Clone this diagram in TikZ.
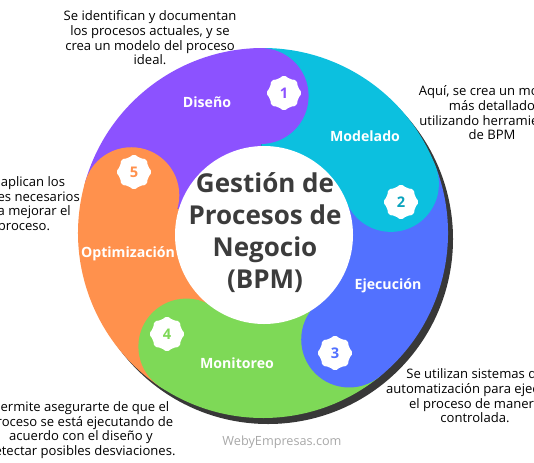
\documentclass[tikz,border=0pt]{standalone}
\usepackage{fontspec}
\setmainfont{Open Sans}
\usetikzlibrary{shapes.geometric}
\definecolor{disenocol}{HTML}{8C52FF}
\definecolor{modelcol}{HTML}{0CC0DF}
\definecolor{ejeccol}{HTML}{5271FF}
\definecolor{monitcol}{HTML}{7ED957}
\definecolor{optimcol}{HTML}{FF914D}
\definecolor{shadowcol}{HTML}{383838}
\definecolor{titlecol}{HTML}{3C3C3C}
\definecolor{markcol}{HTML}{A8A8A8}
% one coloured piece of the ring: colour, end angle, start angle
\newcommand{\ringpart}[3]{
  \fill[#1] (#2:80) arc[start angle=#2, end angle=#3, radius=80]
    -- (#3:185) arc[start angle=#3, end angle=#2, radius=185] -- cycle;}
% rounded head of a piece
\newcommand{\ringcap}[2]{\fill[#1] (#2:137) circle[radius=48];}
\tikzset{
    %Define style for phase names
    phase/.style={
           text=white,
           font=\fontsize{10.6}{12}\selectfont\bfseries},
    %Define style for number badges
    badge/.style={
           star, star points=8, star point ratio=1.2,
           fill=white, rounded corners=1.5pt,
           minimum size=27pt, inner sep=0pt,
           font=\fontsize{11}{12}\selectfont\bfseries},
    %Define style for descriptions
    annot/.style={
           align=center,
           font=\fontsize{9.8}{11}\selectfont},
    %Define style for the centre text
    bigtitle/.style={
           align=center, text=titlecol,
           font=\fontsize{19.5}{24}\selectfont\bfseries}
}
\begin{document}
\begin{tikzpicture}[x=0.75pt, y=0.75pt]
  \useasboundingbox (0,0) rectangle (534,462);

  % shadow and ring
  \fill[shadowcol] (268,223) circle[radius=185];
  \begin{scope}[shift={(263,229)}]
    \ringpart{disenocol}{91}{164}
    \ringpart{modelcol}{21}{91}
    \ringpart{ejeccol}{-51}{21}
    \ringpart{monitcol}{-124}{-51}
    \ringpart{optimcol}{164}{236}
    \ringcap{disenocol}{91}
    \ringcap{modelcol}{21}
    \ringcap{ejeccol}{-51}
    \ringcap{monitcol}{-124}
    \ringcap{optimcol}{164}
  \end{scope}
  \fill[white] (264,227) circle[radius=89];

  \node[bigtitle] (title) at (265,229) {Gesti\'on de\\Procesos de\\Negocio\\(BPM)};

  \node[phase] (diseno) at (207,360) {Diseño};
  \node[phase] (modelado) at (365,326) {Modelado};
  \node[phase] (ejecucion) at (388,176) {Ejecución};
  \node[phase] (monitoreo) at (237,99) {Monitoreo};
  \node[phase] (optimizacion) at (128,208) {Optimización};

  \node[badge, text=disenocol] (b1) at (284,369) {1};
  \node[badge, text=modelcol!85!black] (b2) at (401,260) {2};
  \node[badge, text=ejeccol] (b3) at (335,109) {3};
  \node[badge, text=monitcol] (b4) at (167,128) {4};
  \node[badge, text=optimcol] (b5) at (134,290) {5};

  \node[annot] (d1) at (150,424) {Se identifican y documentan\\los procesos actuales, y se\\crea un modelo del proceso\\ideal.};
  \node[annot] (d2) at (492,349) {Aquí, se crea un modelo\\más detallado\\utilizando herramientas\\de BPM};
  \node[annot] (d3) at (475,66) {Se utilizan sistemas de\\automatización para ejecutar\\el proceso de manera\\controlada.};
  \node[annot] (d4) at (81,32) {Permite asegurarte de que el\\proceso se está ejecutando de\\acuerdo con el diseño y\\detectar posibles desviaciones.};
  \node[annot] (d5) at (24,257) {Se aplican los\\ajustes necesarios\\para mejorar el\\proceso.};

  \node[text=markcol, font=\fontsize{9.5}{11}\selectfont] (mark) at (282,20) {WebyEmpresas.com};
\end{tikzpicture}
\end{document}
